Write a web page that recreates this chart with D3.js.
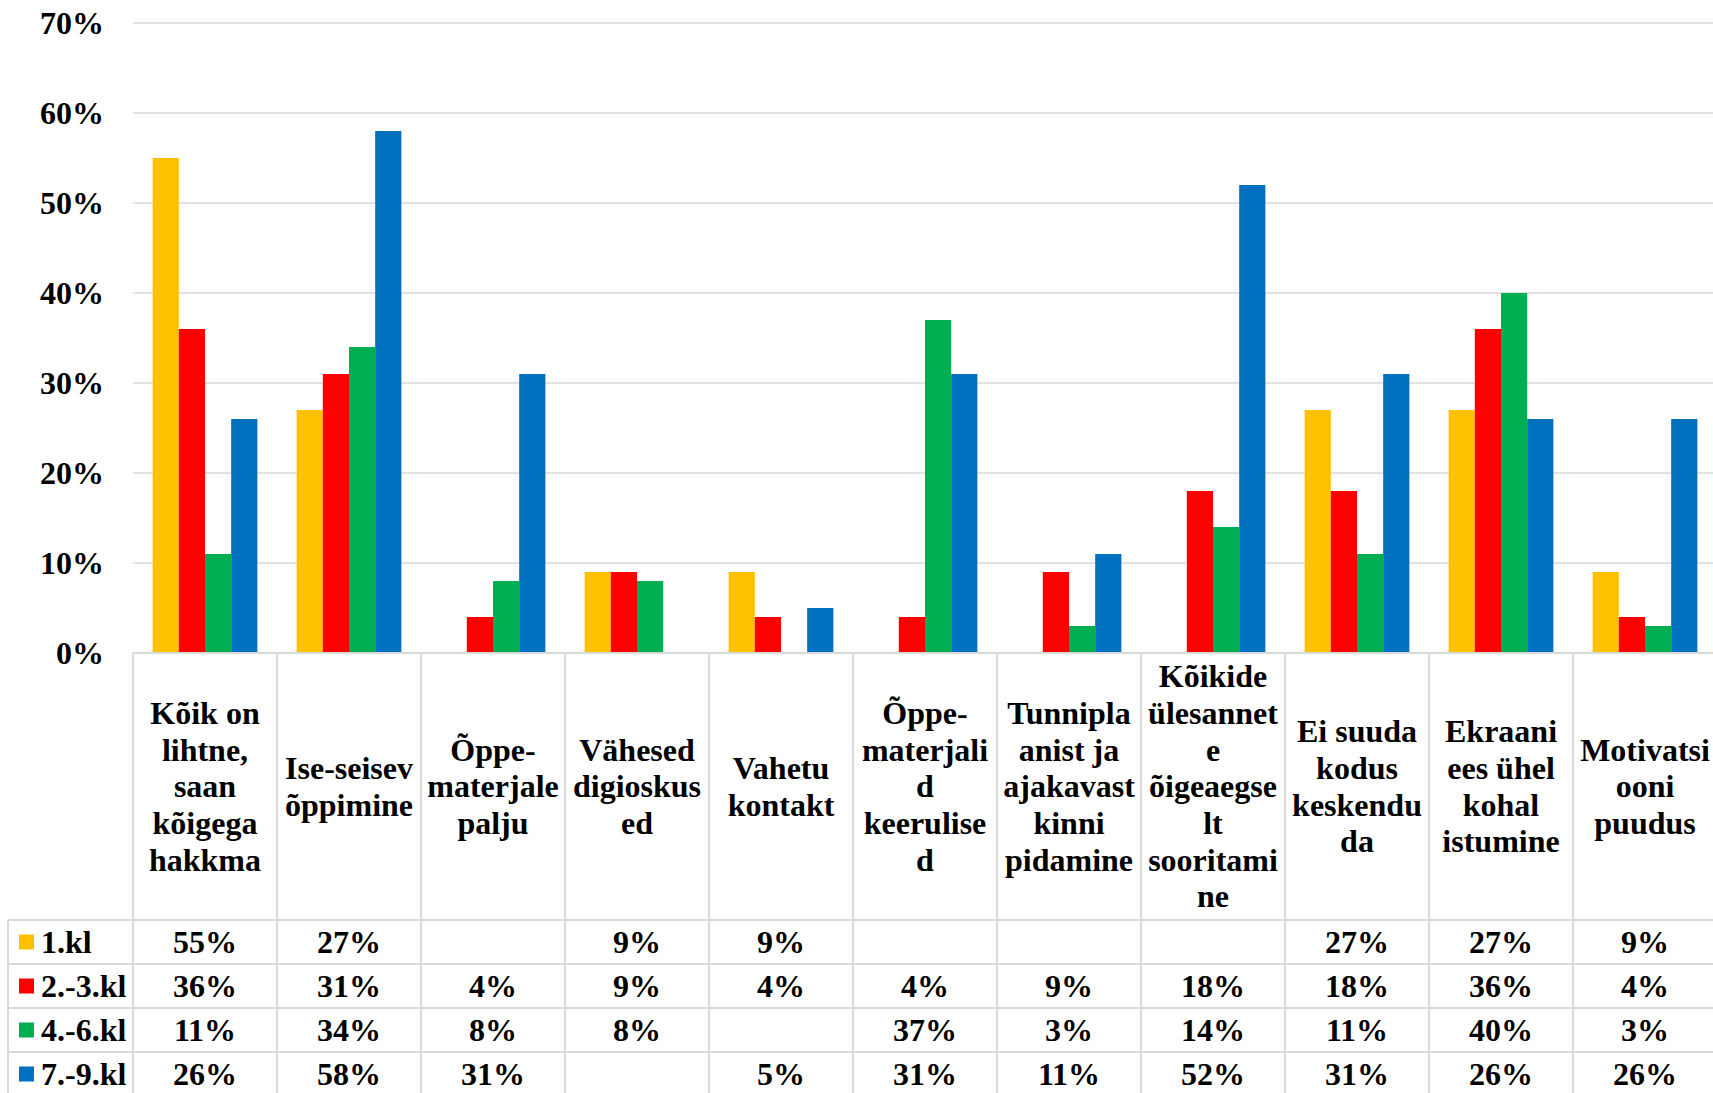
<!DOCTYPE html>
<html lang="et">
<head>
<meta charset="UTF-8" />
<script src="https://d3js.org/d3.v7.min.js"></script>
<title>Kaugõpe</title>
<style>
  body { margin: 0; background: #fff; }
  text { font-family: "Liberation Serif", "Times New Roman", serif; font-weight: bold; fill: #000; }
</style>
</head>
<body>
<script>
  // categories (already wrapped as in the original chart)
  var categories = [
    ["Kõik on", "lihtne,", "saan", "kõigega", "hakkma"],
    ["Ise-seisev", "õppimine"],
    ["Õppe-", "materjale", "palju"],
    ["Vähesed", "digioskus", "ed"],
    ["Vahetu", "kontakt"],
    ["Õppe-", "materjali", "d", "keerulise", "d"],
    ["Tunnipla", "anist ja", "ajakavast", "kinni", "pidamine"],
    ["Kõikide", "ülesannet", "e", "õigeaegse", "lt", "sooritami", "ne"],
    ["Ei suuda", "kodus", "keskendu", "da"],
    ["Ekraani", "ees ühel", "kohal", "istumine"],
    ["Motivatsi", "ooni", "puudus"]
  ];
  var seriesNames = ["1.kl", "2.-3.kl", "4.-6.kl", "7.-9.kl"];
  var seriesColors = ["#FFC000", "#FF0000", "#00B050", "#0070C0"];

  var kl1  = [55, 27, null, 9, 9, null, null, null, 27, 27, 9];
  var kl23 = [36, 31, 4, 9, 4, 4, 9, 18, 18, 36, 4];
  var kl46 = [11, 34, 8, 8, null, 37, 3, 14, 11, 40, 3];
  var kl79 = [26, 58, 31, null, 5, 31, 11, 52, 31, 26, 26];
  var seriesValues = [kl1, kl23, kl46, kl79];

  var yTicks = [0, 10, 20, 30, 40, 50, 60, 70];

  var w = 1713, h = 1093;
  var plotLeft = 133, plotRight = 133 + 144 * categories.length;
  var plotTop = 23, plotBottom = 653;
  var headerBottom = 920, rowH = 44;
  var tableLeft = 8;
  var fs = 32, lineH = 36.7;
  var gridColor = "#D9D9D9";

  var svg = d3.select("body").append("svg")
    .attr("width", w)
    .attr("height", h);

  var x = d3.scaleBand()
    .domain(d3.range(categories.length))
    .range([plotLeft, plotRight]);

  var bw = x.bandwidth();
  var barW = bw / 5.5; // gap width 150%
  var xs = d3.scaleBand()
    .domain(d3.range(seriesNames.length))
    .range([barW * 0.75, bw - barW * 0.75]);

  var y = d3.scaleLinear()
    .domain([0, 70])
    .range([plotBottom, plotTop]);

  // gridlines
  svg.append("g")
    .selectAll("line")
    .data(yTicks.filter(function (d) { return d > 0; }))
    .enter()
    .append("line")
    .attr("x1", plotLeft)
    .attr("x2", w)
    .attr("y1", function (d) { return y(d); })
    .attr("y2", function (d) { return y(d); })
    .attr("stroke", gridColor)
    .attr("stroke-width", 1.5);

  // y axis labels
  var yAxis = svg.append("g")
    .attr("transform", "translate(" + (plotLeft - 29) + ",0)")
    .call(d3.axisLeft(y).tickValues(yTicks).tickSize(0).tickPadding(0)
      .tickFormat(function (d) { return d + "%"; }));
  yAxis.select(".domain").remove();
  yAxis.selectAll("text")
    .attr("font-size", fs)
    .attr("font-family", null)
    .attr("fill", "#000")
    .attr("dy", "0.34em");

  // bars
  seriesValues.forEach(function (vals, s) {
    svg.append("g")
      .selectAll("rect")
      .data(vals.map(function (v, i) { return { i: i, v: v }; })
        .filter(function (d) { return d.v !== null; }))
      .enter()
      .append("rect")
      .attr("x", function (d) { return x(d.i) + xs(s); })
      .attr("width", xs.bandwidth())
      .attr("y", function (d) { return y(d.v); })
      .attr("height", function (d) { return y(0) - y(d.v); })
      .attr("fill", seriesColors[s]);
  });

  // data table lines
  var tbl = svg.append("g").attr("stroke", gridColor).attr("stroke-width", 2);
  tbl.append("line")
    .attr("x1", plotLeft).attr("x2", w)
    .attr("y1", plotBottom).attr("y2", plotBottom);
  tbl.selectAll(".vline")
    .data(d3.range(categories.length + 1))
    .enter()
    .append("line")
    .attr("x1", function (i) { return plotLeft + i * bw; })
    .attr("x2", function (i) { return plotLeft + i * bw; })
    .attr("y1", plotBottom).attr("y2", h);
  tbl.append("line")
    .attr("x1", tableLeft).attr("x2", tableLeft)
    .attr("y1", headerBottom).attr("y2", h);
  tbl.selectAll(".hline")
    .data(d3.range(seriesNames.length + 1))
    .enter()
    .append("line")
    .attr("x1", tableLeft).attr("x2", w)
    .attr("y1", function (r) { return headerBottom + r * rowH; })
    .attr("y2", function (r) { return headerBottom + r * rowH; });

  // header text
  var headCenter = (plotBottom + headerBottom) / 2;
  categories.forEach(function (lines, i) {
    var t = svg.append("text")
      .attr("text-anchor", "middle")
      .attr("font-size", fs);
    lines.forEach(function (ln, k) {
      t.append("tspan")
        .attr("x", x(i) + bw / 2)
        .attr("y", headCenter + (k - (lines.length - 1) / 2) * lineH)
        .attr("dy", "0.34em")
        .text(ln);
    });
  });

  // table rows
  seriesNames.forEach(function (name, s) {
    var cy = headerBottom + s * rowH + rowH / 2;
    svg.append("rect")
      .attr("x", 19).attr("y", cy - 7.5)
      .attr("width", 15).attr("height", 15)
      .attr("fill", seriesColors[s]);
    svg.append("text")
      .attr("x", 41).attr("y", cy).attr("dy", "0.34em")
      .attr("font-size", fs)
      .text(name);
    seriesValues[s].forEach(function (v, i) {
      if (v === null) return;
      svg.append("text")
        .attr("x", x(i) + bw / 2).attr("y", cy).attr("dy", "0.34em")
        .attr("text-anchor", "middle")
        .attr("font-size", fs)
        .text(v + "%");
    });
  });
</script>
</body>
</html>
